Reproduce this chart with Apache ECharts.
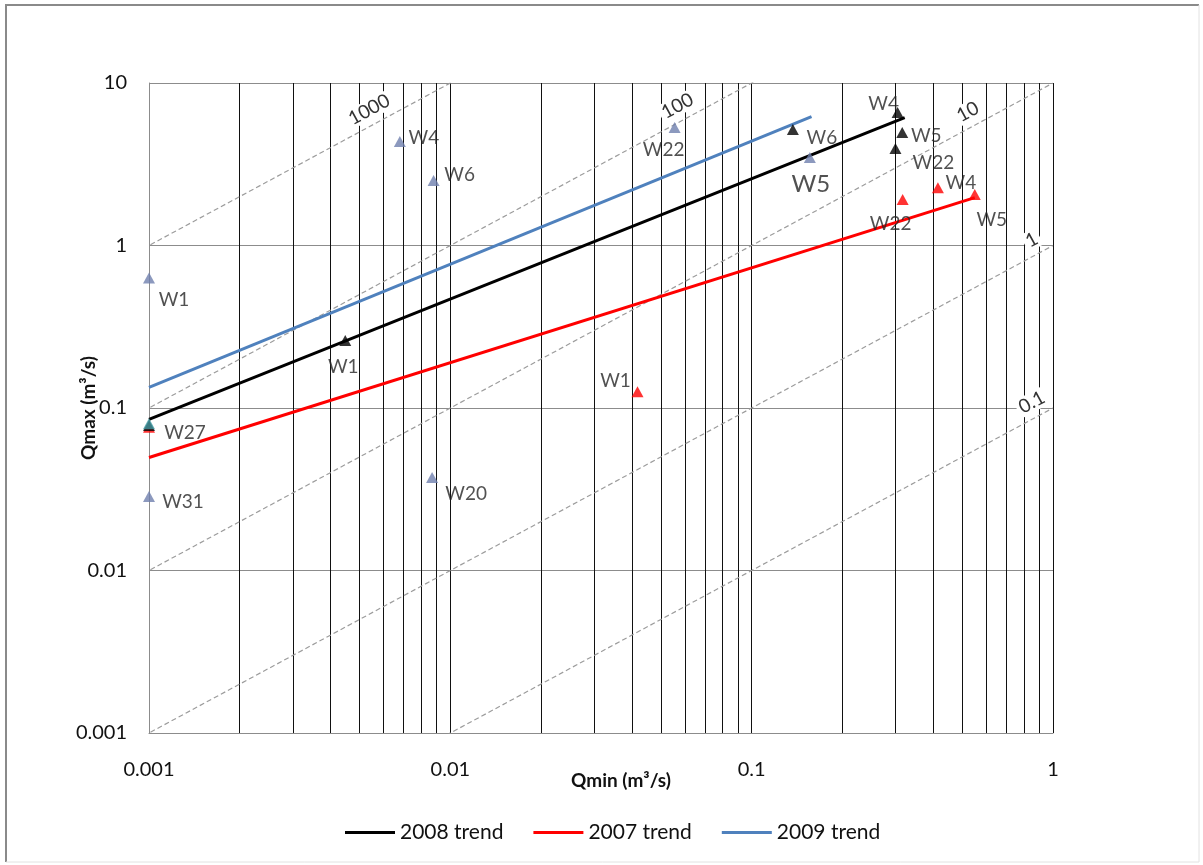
<!DOCTYPE html>
<html>
<head>
<meta charset="utf-8">
<title>Qmax vs Qmin</title>
<script src="https://cdn.jsdelivr.net/npm/echarts@6/dist/echarts.min.js"></script>
<style>
  html, body { margin: 0; padding: 0; background: #fff; }
  #chart { width: 1203px; height: 865px; }
</style>
</head>
<body>
<div id="chart"></div>
<script>
// Axis tick labels (one per decade)
const xTickLabels = ['0.001', '0.01', '0.1', '1'];
const yTickLabels = ['0.001', '0.01', '0.1', '1', '10'];

// 2009 wells
const names2009 = ['W1', 'W4', 'W6', 'W22', 'W5', 'W20', 'W31', 'W27'];
const qmin2009  = [0.001, 0.0068, 0.0088, 0.0555, 0.156, 0.0087, 0.001, 0.001];
const qmax2009  = [0.63, 4.37, 2.51, 5.32, 3.48, 0.0373, 0.0285, 0.080];

// 2008 wells
const names2008 = ['W27', 'W1', 'W6', 'W4', 'W5', 'W22'];
const qmin2008  = [0.001, 0.00448, 0.137, 0.305, 0.316, 0.300];
const qmax2008  = [0.078, 0.26, 5.17, 6.58, 4.96, 3.95];

// 2007 wells
const names2007 = ['W27', 'W1', 'W22', 'W4', 'W5'];
const qmin2007  = [0.001, 0.0418, 0.317, 0.415, 0.55];
const qmax2007  = [0.076, 0.126, 1.92, 2.27, 2.06];

// Power-law trend lines (end points)
const trend2008X = [0.001, 0.322];
const trend2008Y = [0.085, 6.13];
const trend2007X = [0.001, 0.55];
const trend2007Y = [0.0496, 1.97];
const trend2009X = [0.001, 0.158];
const trend2009Y = [0.134, 6.2];

// Constant Qmax/Qmin ratio guide lines
const ratioValues = [1000, 100, 10, 1, 0.1];
const ratioLabels = ['1000', '100', '10', '1', '0.1'];

// ---- layout / style ----
const FONT = 'Lato, "Open Sans", "DejaVu Sans", sans-serif';
const TXT = '#262626';
const COL2008 = '#000000';
const COL2007 = '#ff0000';
const COL2009LINE = '#4f81bd';
const COL2009MARK = '#6f7fae';

// label offsets (px) around each marker
const lbl2009 = [[25, 22], [24, -4], [26, -6], [-11, 22], [1, 27], [34, 16], [34, 5], [36, 9]];
const lblSize2009 = [19, 19, 19, 19, 24, 19, 19, 19];
const lbl2008 = [null, [-2, 26], [29, 8], [-14, -9], [24, 3], [38, 14]];
const lbl2007 = [null, [-22, -11], [-12, 24], [23, -5], [17, 25]];
// where along each guide line its label sits (Qmin)
const ratioLabelAtX = [0.00568, 0.0599, 0.551, 0.898, 0.898];
const GUIDE_ANGLE = 28.37;

const X_MIN = 0.001, X_MAX = 1, Y_MIN = 0.001, Y_MAX = 10;

function pairs(xs, ys) { return xs.map((x, i) => [x, ys[i]]); }

function wellPoints(names, xs, ys, offsets, sizes, overrides) {
  return names.map((n, i) => {
    const off = offsets[i];
    const item = {
      name: n,
      value: [xs[i], ys[i]],
      label: off ? {
        show: true, position: 'inside', offset: off,
        formatter: n, color: TXT,
        fontFamily: FONT, fontSize: sizes ? sizes[i] : 19
      } : { show: false }
    };
    if (overrides && overrides[n]) item.itemStyle = { color: overrides[n] };
    return item;
  });
}

// vertical grid: every 2..10 multiple of each decade
const vGrid = [];
[0.001, 0.01, 0.1].forEach(d => {
  for (let m = 2; m <= 10; m++) vGrid.push(+(d * m).toPrecision(3));
});

const series = [];

// vertical grid lines
series.push({
  type: 'lines', coordinateSystem: 'cartesian2d', silent: true, z: 1,
  polyline: false, symbol: 'none',
  lineStyle: { color: '#111', width: 1, opacity: 1, curveness: 0 },
  data: vGrid.map(v => ({ coords: [[v, Y_MIN], [v, Y_MAX]] }))
});

// guide lines Qmax = r * Qmin
ratioValues.forEach((r, i) => {
  const lx = ratioLabelAtX[i];
  series.push({
    type: 'line', name: 'ratio ' + ratioLabels[i],
    data: [[0.0001, r * 0.0001], [1, r * 1]],
    showSymbol: false, symbol: 'none', silent: true, z: 2,
    lineStyle: { color: '#9c9c9c', width: 1.2, type: [5, 3] },
    markPoint: {
      silent: true, symbol: 'rect', symbolSize: 0,
      data: [{ coord: [lx, r * lx], value: ratioLabels[i] }],
      label: {
        show: true, position: 'inside', offset: [0, -15], rotate: GUIDE_ANGLE,
        formatter: ratioLabels[i], color: '#333', fontFamily: FONT, fontSize: 19,
        backgroundColor: '#fff', padding: [0, 3]
      }
    }
  });
});

// trend lines
[['2008 trend', trend2008X, trend2008Y, COL2008],
 ['2007 trend', trend2007X, trend2007Y, COL2007],
 ['2009 trend', trend2009X, trend2009Y, COL2009LINE]].forEach(([nm, xs, ys, c]) => {
  series.push({
    type: 'line', name: nm, data: pairs(xs, ys),
    symbol: 'none', showSymbol: false, z: 4,
    lineStyle: { color: c, width: 3 }, itemStyle: { color: c }
  });
});

// well markers
series.push({
  type: 'scatter', name: '2007', symbol: 'triangle', symbolSize: [12, 11], z: 5,
  itemStyle: { color: COL2007 },
  data: wellPoints(names2007, qmin2007, qmax2007, lbl2007, null)
});
series.push({
  type: 'scatter', name: '2008', symbol: 'triangle', symbolSize: [12, 11], z: 6,
  itemStyle: { color: COL2008 },
  data: wellPoints(names2008, qmin2008, qmax2008, lbl2008, null)
});
series.push({
  type: 'scatter', name: '2009', symbol: 'triangle', symbolSize: [12, 11], z: 7,
  itemStyle: { color: COL2009MARK },
  data: wellPoints(names2009, qmin2009, qmax2009, lbl2009, lblSize2009, { W27: '#3f98a2' })
});

const chart = echarts.init(document.getElementById('chart'), null, { renderer: 'canvas' });
chart.setOption({
  animation: false,
  backgroundColor: '#fff',
  textStyle: { fontFamily: FONT },
  grid: { left: 149, top: 83, width: 904, height: 650, containLabel: false },
  xAxis: {
    type: 'log', logBase: 10, min: X_MIN, max: X_MAX,
    name: 'Qmin (m\u00b3/s)', nameLocation: 'middle', nameGap: 38, nameMoveOverlap: false,
    nameTextStyle: { color: '#111', fontWeight: 'bold', fontSize: 19, fontFamily: FONT, padding: [0, 0, 0, 40] },
    axisLine: { show: true, lineStyle: { color: '#8c8c8c', width: 1 } },
    axisTick: { show: false },
    splitLine: { show: false },
    axisLabel: {
      margin: 27, color: '#111', fontSize: 20, fontFamily: FONT,
      formatter: v => xTickLabels[Math.round(Math.log10(v) + 3)]
    }
  },
  yAxis: {
    type: 'log', logBase: 10, min: Y_MIN, max: Y_MAX,
    name: 'Qmax (m\u00b3/s)', nameLocation: 'middle', nameGap: 51, nameMoveOverlap: false,
    nameTextStyle: { color: '#111', fontWeight: 'bold', fontSize: 19, fontFamily: FONT },
    axisLine: { show: true, lineStyle: { color: '#8c8c8c', width: 1 } },
    axisTick: { show: false },
    splitLine: { show: true, lineStyle: { color: '#8c8c8c', width: 1 } },
    axisLabel: {
      margin: 22, color: '#111', fontSize: 20, fontFamily: FONT,
      formatter: v => yTickLabels[Math.round(Math.log10(v) + 3)]
    }
  },
  legend: {
    data: ['2008 trend', '2007 trend', '2009 trend'],
    left: 340, top: 817,
    icon: 'rect', itemWidth: 50, itemHeight: 3, itemGap: 30,
    textStyle: { color: '#111', fontSize: 21, fontFamily: FONT }
  },
  graphic: [
    { type: 'polyline', silent: true, shape: { points: [[6, 862], [6, 5], [1199, 5]] },
      style: { stroke: '#8a8a8a', lineWidth: 2, fill: null } },
    { type: 'polyline', silent: true, shape: { points: [[1199, 5], [1199, 862], [6, 862]] },
      style: { stroke: '#e2e2e2', lineWidth: 1, fill: null } }
  ],
  series: series
});
</script>
</body>
</html>
